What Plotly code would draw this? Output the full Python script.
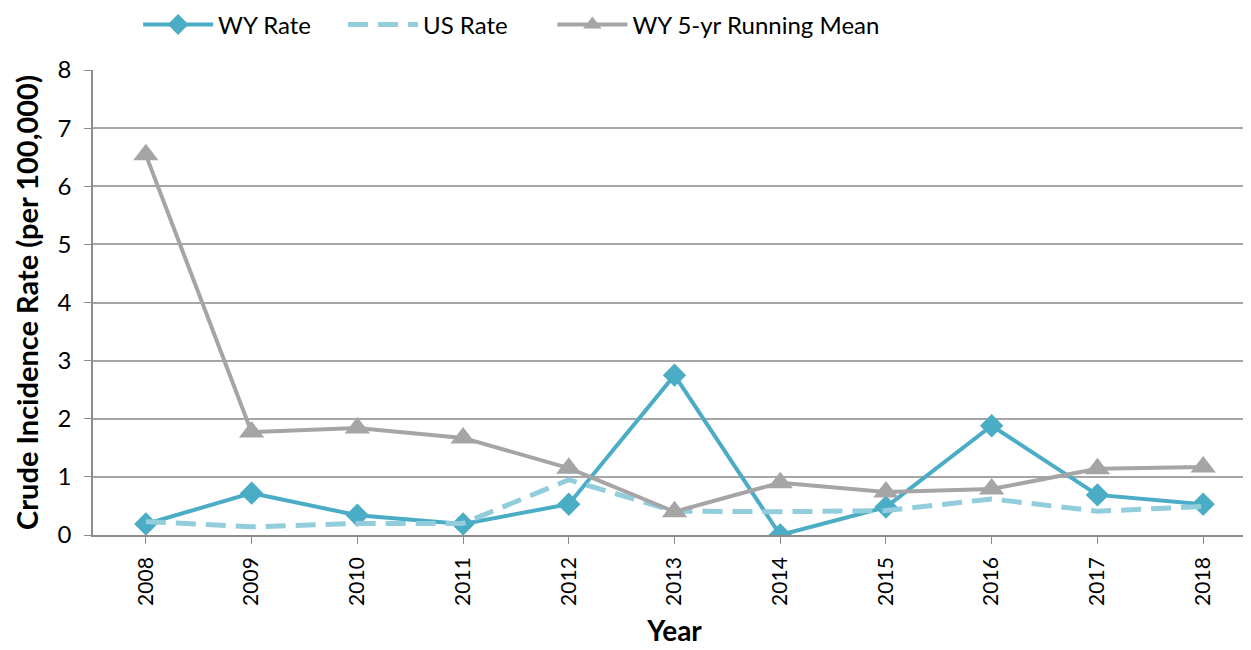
import plotly.graph_objects as go

years = ["2008", "2009", "2010", "2011", "2012", "2013", "2014", "2015", "2016", "2017", "2018"]
wy_rate = [0.19, 0.72, 0.34, 0.19, 0.53, 2.75, 0.0, 0.48, 1.88, 0.69, 0.53]
us_rate = [0.23, 0.14, 0.20, 0.20, 0.95, 0.41, 0.40, 0.42, 0.62, 0.41, 0.49]
wy_mean = [6.54, 1.77, 1.84, 1.67, 1.15, 0.40, 0.90, 0.74, 0.79, 1.14, 1.17]

FONT = "Lato"
fig = go.Figure()
fig.add_trace(go.Scatter(
    x=years, y=wy_rate, name="WY Rate", mode="lines+markers", legend="legend",
    line=dict(color="#4bacc6", width=4),
    marker=dict(symbol="diamond", size=18, color="#4bacc6"),
))
fig.add_trace(go.Scatter(
    x=years, y=us_rate, name="US Rate", mode="lines", legend="legend2",
    line=dict(color="#92cddc", width=5, dash="20px,10px"),
))
fig.add_trace(go.Scatter(
    x=years, y=wy_mean, name="WY 5-yr Running Mean", mode="lines+markers", legend="legend3",
    line=dict(color="#a5a5a5", width=4),
    marker=dict(symbol="triangle-up", size=22, color="#a5a5a5"),
))

def leg(xp):
    return dict(orientation="h", x=xp, xanchor="left", y=0.974, yanchor="middle",
                yref="container", font=dict(size=24, family=FONT), itemwidth=70,
                bgcolor="rgba(0,0,0,0)")

fig.update_layout(
    width=1251, height=650,
    margin=dict(l=85, r=3, t=62, b=123, autoexpand=False),
    paper_bgcolor="white", plot_bgcolor="white",
    font=dict(family=FONT, color="#000000", size=20),
    showlegend=True,
    legend=leg(0.0388), legend2=leg(0.215), legend3=leg(0.395),
    xaxis=dict(
        type="category", range=[-0.5, 10.5],
        showgrid=False, showline=True, linecolor="#8c8c8c", linewidth=1.5,
        ticks="outside", ticklen=7, tickcolor="#8c8c8c", tickangle=-90,
        tickfont=dict(size=21, family=FONT), automargin=False, ticklabelstandoff=5,
        title=dict(text="<b>Year</b>", font=dict(size=28, family=FONT), standoff=17),
    ),
    yaxis=dict(
        range=[0, 8], dtick=1, tick0=0,
        showgrid=True, gridcolor="#a6a6a6", gridwidth=1.5,
        showline=True, linecolor="#8c8c8c", linewidth=1.5,
        ticks="outside", ticklen=7, tickcolor="#8c8c8c", automargin=False,
        tickfont=dict(size=24, family=FONT), zeroline=False, ticklabelstandoff=8,
        title=dict(text="<b>Crude Incidence Rate (per 100,000)</b>",
                   font=dict(size=29, family=FONT), standoff=10),
    ),
)

fig.write_html("out.html")
